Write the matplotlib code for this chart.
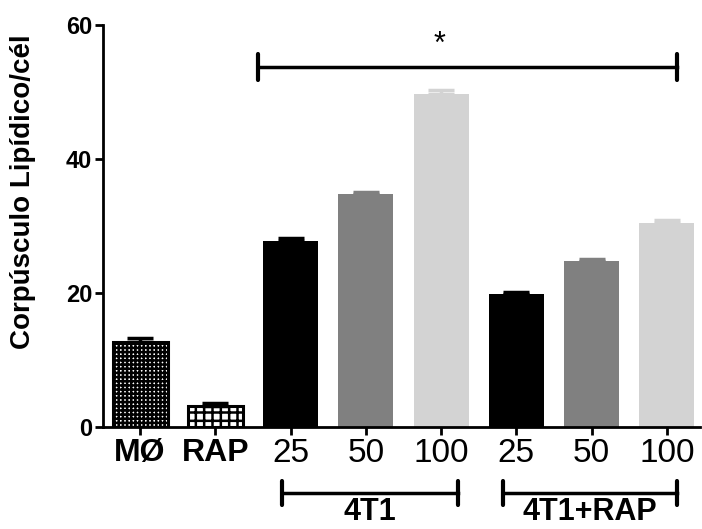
import matplotlib
matplotlib.use("Agg")
import matplotlib.pyplot as plt
import numpy as np

plt.rcParams['font.family'] = ['Liberation Sans', 'DejaVu Sans']
plt.rcParams['hatch.linewidth'] = 1.8

# data
labels = ['MØ', 'RAP', '25', '50', '100', '25', '50', '100']
values = [12.7, 3.1, 27.8, 34.8, 49.7, 19.9, 24.7, 30.4]
errors = [0.5, 0.5, 0.4, 0.3, 0.6, 0.3, 0.3, 0.5]
colors = ['white', 'white', 'black', '#808080', '#d3d3d3', 'black', '#808080', '#d3d3d3']
hatches = ['++++', '++', '', '', '', '', '', '']
groups = ['4T1', '4T1+RAP']
sig_label = '*'

fig = plt.figure(figsize=(7.02, 5.29), dpi=100)
ax = fig.add_axes([0.147, 0.193, 0.850, 0.760])

x = np.arange(len(values))
for i in range(len(values)):
    hatched = hatches[i] != ''
    ax.bar(x[i], values[i], width=0.73, color=colors[i],
           edgecolor='black' if hatched else colors[i],
           linewidth=2.2 if hatched else 0, hatch=hatches[i], zorder=2)
    ecol = 'black' if hatched else colors[i]
    ax.errorbar(x[i], values[i], yerr=[[0], [errors[i]]], fmt='none',
                ecolor=ecol, elinewidth=2.5, capsize=9.5, capthick=2.5, zorder=3)

ax.set_xlim(-0.49, 7.44)
ax.set_ylim(0, 60)
ax.set_yticks([0, 20, 40, 60])
ax.set_xticks(x)
ax.set_xticklabels(labels)
for i, t in enumerate(ax.get_xticklabels()):
    if i < 2:
        t.set_fontweight('bold')
        t.set_fontsize(23)
    else:
        t.set_fontsize(24)
for t in ax.get_yticklabels():
    t.set_fontweight('bold')
    t.set_fontsize(17)

ax.spines['top'].set_visible(False)
ax.spines['right'].set_visible(False)
ax.spines['left'].set_linewidth(2)
ax.spines['bottom'].set_linewidth(2)
ax.tick_params(axis='both', direction='out', length=6, width=2, pad=2)

ax.set_ylabel('Corpúsculo Lipídico/cél', fontsize=20, fontweight='bold')
ax.yaxis.set_label_coords(-0.112, 0.585)

# significance bar
ax.plot([1.57, 7.14], [53.7, 53.7], color='black', lw=2.5, zorder=4, clip_on=False)
for xe in [1.57, 7.14]:
    ax.plot([xe, xe], [51.7, 55.7], color='black', lw=3, solid_capstyle='round', clip_on=False)
ax.text(3.98, 54.8, sig_label, ha='center', va='bottom', fontsize=22)

# group brackets under the axis
spans = [(1.89, 4.22), (4.82, 7.14)]
for (x0, x1), g in zip(spans, groups):
    ax.plot([x0, x1], [-9.8, -9.8], color='black', lw=2.5, clip_on=False)
    for xe in [x0, x1]:
        ax.plot([xe, xe], [-8.0, -11.6], color='black', lw=3, solid_capstyle='round', clip_on=False)
    ax.text((x0 + x1) / 2, -0.249, g, transform=ax.get_xaxis_transform(),
            ha='center', va='bottom', fontsize=22, fontweight='bold', clip_on=False)

fig.savefig('out.png', dpi=100)
